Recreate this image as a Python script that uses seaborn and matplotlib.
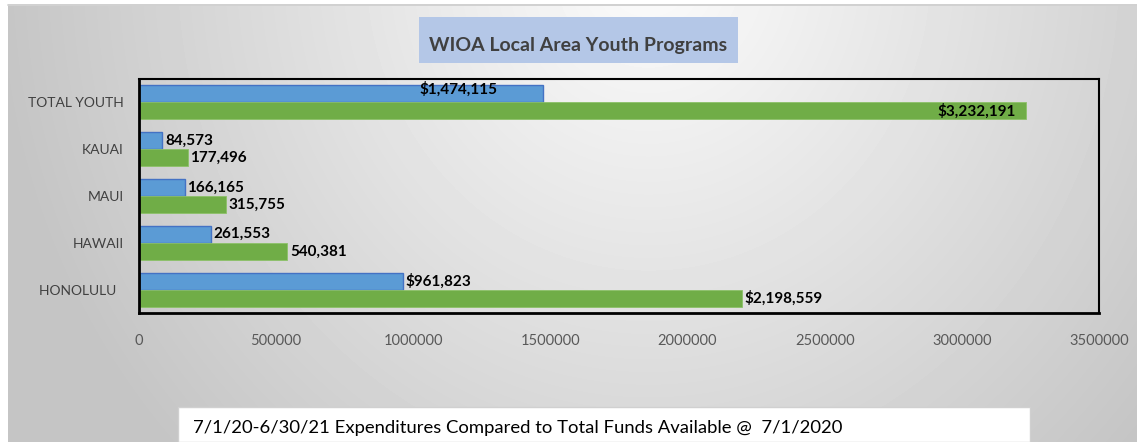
import numpy as np
import pandas as pd
import matplotlib
matplotlib.use("Agg")
import matplotlib.pyplot as plt
from matplotlib.patches import Rectangle
import seaborn as sns

# data
areas = ["TOTAL YOUTH", "KAUAI", "MAUI", "HAWAII", "HONOLULU  "]
expenditures = [1474115, 84573, 166165, 261553, 961823]
funds_available = [3232191, 177496, 315755, 540381, 2198559]
exp_labels = ["$1,474,115", "84,573", "166,165", "261,553", "$961,823"]
fund_labels = ["$3,232,191", "177,496", "315,755", "540,381", "$2,198,559"]
x_ticks = [0, 500000, 1000000, 1500000, 2000000, 2500000, 3000000, 3500000]

df = pd.DataFrame({
    "area": areas * 2,
    "value": expenditures + funds_available,
    "series": ["Expenditures"] * len(areas) + ["Funds"] * len(areas),
})

sns.set_style("white")
plt.rcParams["font.family"] = ["Lato", "DejaVu Sans"]

W, H = 1137, 442
fig = plt.figure(figsize=(W / 100, H / 100), dpi=100)
fig.patch.set_facecolor("white")

# grey radial-ish backdrop like the Excel chart area
bg = fig.add_axes([8 / W, 0, 1 - 8 / W, (H - 6) / H], zorder=-10)
bw, bh = W - 8, H - 6
yy, xx = np.mgrid[0:bh, 0:bw]
r = np.sqrt(((xx - 640) / 650.0) ** 2 + ((yy + 40) / 700.0) ** 2)
shade = (252 - 55 * np.clip(r, 0, 1)) / 255.0
bg.imshow(shade, cmap="gray", vmin=0, vmax=1, aspect="auto", interpolation="bilinear")
bg.set_axis_off()
fig.add_artist(plt.Line2D([8 / W, 1], [1 - 5 / H, 1 - 5 / H], color="#c8c8c8", lw=1.2,
                          transform=fig.transFigure))

ax = fig.add_axes([139 / W, 1 - 313 / H, (1099 - 139) / W, (313 - 79) / H])
ax.patch.set_alpha(0)

blue, green = "#5B9BD5", "#70AD47"
sns.barplot(data=df, x="value", y="area", hue="series", orient="h",
            palette=[blue, green], width=0.73, saturation=1, legend=False, ax=ax)

for bar in ax.containers[0]:
    bar.set_edgecolor("#4472C4")
    bar.set_linewidth(1)
for bar in ax.containers[1]:
    bar.set_edgecolor("#8CC168")
    bar.set_linewidth(0.6)

ax.set_xlim(0, 3500000)
ax.set_xticks(x_ticks)
ax.set_xticklabels([str(t) for t in x_ticks], fontsize=10.5, color="#595959")
ax.tick_params(axis="x", length=0, pad=15)
ax.tick_params(axis="y", length=0, pad=11, labelsize=10, labelcolor="#404040")
ax.set_xlabel("")
ax.set_ylabel("")
for name, s in ax.spines.items():
    s.set_visible(True)
    s.set_color("black")
    s.set_linewidth(2 if name in ("left", "bottom") else 1.5)

# value labels: inside end for the total row, outside end for the rest
for k, (cont, labels) in enumerate(zip(ax.containers, [exp_labels, fund_labels])):
    for i, (bar, lab) in enumerate(zip(cont, labels)):
        w = bar.get_width()
        yc = bar.get_y() + bar.get_height() / 2
        if i == 0:
            off = (-33, 3) if k == 0 else (-7, 0)
            ax.annotate(lab, (w, yc), xytext=off, textcoords="offset points",
                        ha="right", va="center", fontsize=11, fontweight="bold", color="black")
        else:
            ax.annotate(lab, (w, yc), xytext=(2, 0), textcoords="offset points",
                        ha="left", va="center", fontsize=11, fontweight="bold", color="black")

# title box
fig.add_artist(Rectangle((419 / W, 1 - 63 / H), 319 / W, 46 / H, transform=fig.transFigure,
                         facecolor="#B4C7E7", edgecolor="none"))
fig.text(578 / W, 1 - 45 / H, "WIOA Local Area Youth Programs", ha="center", va="center",
         fontsize=14, fontweight="bold", color="#404040")

# footnote box
fig.add_artist(Rectangle((178 / W, 0), (1030 - 178) / W, 35 / H, transform=fig.transFigure,
                         facecolor="white", edgecolor="#d0d0d0", lw=1))
fig.text(193 / W, 1 - 428 / H,
         "7/1/20-6/30/21 Expenditures Compared to Total Funds Available @  7/1/2020",
         ha="left", va="center", fontsize=13.3, color="black")

fig.savefig("out.png", dpi=100)
